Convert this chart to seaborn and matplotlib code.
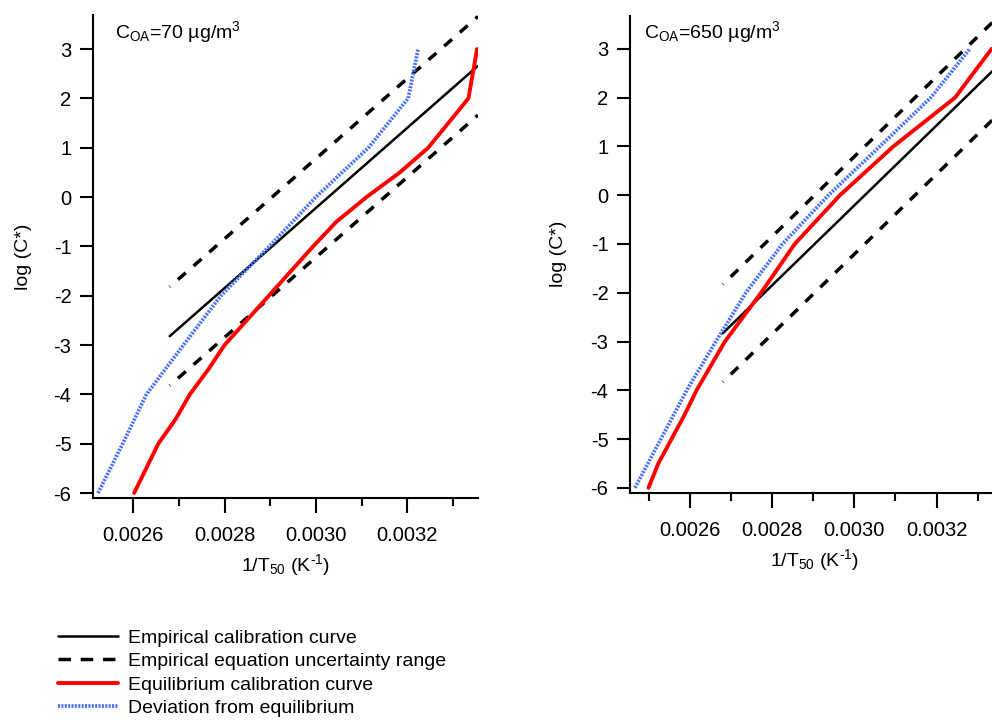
import matplotlib
matplotlib.use('Agg')
import matplotlib.pyplot as plt
from matplotlib.lines import Line2D
from matplotlib.ticker import FixedLocator
import seaborn as sns

################################################################################
# data

# left panel, C_OA = 70 ug/m3
emp_x_70 = [0.00268, 0.003355]
emp_y_70 = [-2.82, 2.66]
emp_hi_y_70 = [-1.82, 3.66]
emp_lo_y_70 = [-3.82, 1.66]

eq_x_70 = [0.002602, 0.002655, 0.002693, 0.002724, 0.002764, 0.0028, 0.002897,
           0.002994, 0.003045, 0.003111, 0.003184, 0.003246, 0.003334, 0.003353]
eq_y_70 = [-6, -5, -4.5, -4, -3.5, -3, -2, -1, -0.5, 0, 0.5, 1, 2, 3]

dev_x_70 = [0.002523, 0.002577, 0.002629, 0.00271, 0.002792, 0.002898, 0.003,
            0.003115, 0.003202, 0.003224]
dev_y_70 = [-6, -5, -4, -3, -2, -1, 0, 1, 2, 3]

# right panel, C_OA = 650 ug/m3
emp_x_650 = [0.00268, 0.00336]
emp_y_650 = [-2.83, 2.74]
emp_hi_y_650 = [-1.83, 3.74]
emp_lo_y_650 = [-3.83, 1.74]

eq_x_650 = [0.002499, 0.002523, 0.002555, 0.002587, 0.002616, 0.002685, 0.002773,
            0.002855, 0.002965, 0.003095, 0.003245, 0.003334]
eq_y_650 = [-6, -5.5, -5, -4.5, -4, -3, -2, -1, 0, 1, 2, 3]

dev_x_650 = [0.002466, 0.002529, 0.002592, 0.002663, 0.002736, 0.002825, 0.002937,
             0.003062, 0.003186, 0.003281]
dev_y_650 = [-6, -5, -4, -3, -2, -1, 0, 1, 2, 3]

x_major = [0.0026, 0.0028, 0.0030, 0.0032]
x_major_labels = ['0.0026', '0.0028', '0.0030', '0.0032']
x_minor = [0.0025, 0.0027, 0.0029, 0.0031, 0.0033]
y_ticks = [-6, -5, -4, -3, -2, -1, 0, 1, 2, 3]

legend_labels = ['Empirical calibration curve',
                 'Empirical equation uncertainty range',
                 'Equilibrium calibration curve',
                 'Deviation from equilibrium']

################################################################################

sns.set_theme(style='ticks', rc={'text.color': 'black', 'axes.labelcolor': 'black',
                                 'axes.edgecolor': 'black', 'xtick.color': 'black',
                                 'ytick.color': 'black'})
plt.rcParams['font.family'] = ['Liberation Sans', 'DejaVu Sans']
plt.rcParams['mathtext.fontset'] = 'custom'
plt.rcParams['mathtext.rm'] = 'Liberation Sans'
plt.rcParams['mathtext.it'] = 'Liberation Sans:italic'
plt.rcParams['axes.unicode_minus'] = False

BLUE = '#4a72f5'
FS = 14
TICK_FS = 14.5
DASH = (2.85, (3, 3))
DOT = (0, (0.55, 0.35))

fig = plt.figure(figsize=(9.92, 7.2), dpi=100)
ax_l = fig.add_axes([0.09375, 0.30833, 0.38810, 0.67083])
ax_r = fig.add_axes([0.63508, 0.31569, 0.36492, 0.66250])


def draw_panel(ax, emp_x, emp_y, hi_y, lo_y, eq_x, eq_y, dev_x, dev_y):
    sns.lineplot(x=emp_x, y=emp_y, ax=ax, color='black', lw=1.8, sort=False,
                 estimator=None)
    sns.lineplot(x=emp_x, y=hi_y, ax=ax, color='black', lw=2.5, sort=False,
                 estimator=None, linestyle=DASH)
    sns.lineplot(x=emp_x, y=lo_y, ax=ax, color='black', lw=2.5, sort=False,
                 estimator=None, linestyle=DASH)
    sns.lineplot(x=eq_x, y=eq_y, ax=ax, color='red', lw=2.8, sort=False,
                 estimator=None)
    sns.lineplot(x=dev_x, y=dev_y, ax=ax, color=BLUE, lw=2.7, sort=False,
                 estimator=None, linestyle=DOT)

    sns.despine(ax=ax)
    for side in ['left', 'bottom']:
        ax.spines[side].set_linewidth(1.5)

    ax.xaxis.set_major_locator(FixedLocator(x_major))
    ax.set_xticklabels(x_major_labels)
    ax.xaxis.set_minor_locator(FixedLocator(x_minor))
    ax.set_yticks(y_ticks)
    ax.set_yticklabels([str(t) for t in y_ticks])

    ax.tick_params(axis='x', which='major', length=10.8, width=1.5, pad=9.5,
                   labelsize=TICK_FS)
    ax.tick_params(axis='x', which='minor', length=5.8, width=1.5)
    ax.tick_params(axis='y', which='major', length=9.5, width=1.5, pad=6,
                   labelsize=TICK_FS)

    ax.set_xlabel(r'1/T$_\mathregular{50}$ (K$^\text{-1}$)', fontsize=FS)
    ax.set_ylabel('log (C*)', fontsize=FS)


draw_panel(ax_l, emp_x_70, emp_y_70, emp_hi_y_70, emp_lo_y_70,
           eq_x_70, eq_y_70, dev_x_70, dev_y_70)
draw_panel(ax_r, emp_x_650, emp_y_650, emp_hi_y_650, emp_lo_y_650,
           eq_x_650, eq_y_650, dev_x_650, dev_y_650)

ax_l.set_xlim(0.002512, 0.003355)
ax_l.set_ylim(-6.1, 3.69)
ax_r.set_xlim(0.002454, 0.003335)
ax_r.set_ylim(-6.1, 3.68)

ax_l.xaxis.set_label_coords(0.499, -0.112)
ax_l.yaxis.set_label_coords(-0.158, 0.5)
ax_r.xaxis.set_label_coords(0.51, -0.115)
ax_r.yaxis.set_label_coords(-0.174, 0.5)

ax_l.text(0.057, 0.965, r'C$_\mathregular{OA}$=70 µg/m$^\mathregular{3}$',
          transform=ax_l.transAxes, fontsize=FS, va='center', ha='left')
ax_r.text(0.039, 0.966, r'C$_\mathregular{OA}$=650 µg/m$^\mathregular{3}$',
          transform=ax_r.transAxes, fontsize=FS, va='center', ha='left')

# legend below the left panel
handles = [
    Line2D([], [], color='black', lw=1.8),
    Line2D([], [], color='black', lw=2.5, linestyle=(0, (3.6, 2.8))),
    Line2D([], [], color='red', lw=2.8),
    Line2D([], [], color=BLUE, lw=2.7, linestyle=DOT),
]
fig.legend(handles, legend_labels, loc='upper left',
           bbox_to_anchor=(58 / 992, (720 - 629) / 720),
           frameon=False, fontsize=FS, handlelength=3.1, handletextpad=0.5,
           labelspacing=0.3, borderpad=0, borderaxespad=0)

fig.savefig('out.png', dpi=100)
